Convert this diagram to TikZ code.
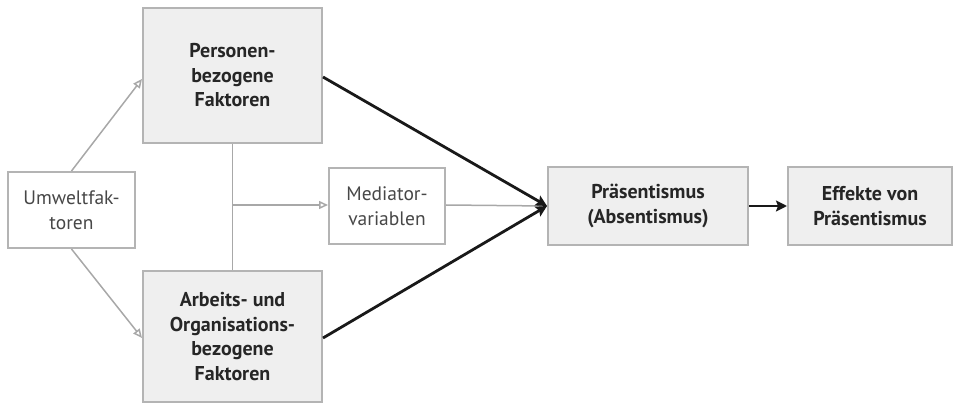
\documentclass[tikz,border=0pt]{standalone}
\usepackage{fontspec}
\setmainfont{PT Sans}
\usetikzlibrary{arrows.meta}
\definecolor{boxline}{HTML}{B4B4B4}
\definecolor{boxfill}{HTML}{EFEFEF}
\definecolor{grayarrow}{HTML}{A8A8A8}
\begin{document}
\begin{tikzpicture}[x=1pt,y=-1pt,
  fbox/.style={draw=boxline,line width=2pt,fill=boxfill,inner sep=0pt,align=center,font=\fontsize{20}{24.5}\selectfont\bfseries,text=black!85},
  wbox/.style={draw=boxline,line width=2pt,fill=white,inner sep=0pt,align=center,font=\fontsize{19.5}{24.5}\selectfont,text=black!72},
  garrow/.style={draw=grayarrow,line width=1.5pt,-{Stealth[length=9pt,width=8pt,inset=0pt,open]}},
  gline/.style={draw=grayarrow,line width=1.5pt},
  barrow/.style={draw=black!90,line width=2.8pt,-{Stealth[length=11pt,width=11pt,inset=2pt]}},
]
\useasboundingbox (0,0) rectangle (956,406);
\node[fbox,minimum width=179pt,minimum height=135pt] (pers) at (232.5,75.5) {Personen-\\bezogene\\Faktoren};
\node[fbox,minimum width=179pt,minimum height=131pt] (arb) at (232.5,336.5) {Arbeits- und\\Organisations-\\bezogene\\Faktoren};
\node[wbox,minimum width=127pt,minimum height=76pt] (umw) at (71.5,210) {Umweltfak-\\toren};
\node[wbox,minimum width=116pt,minimum height=76pt] (med) at (387,206) {Mediator-\\variablen};
\node[fbox,minimum width=200pt,minimum height=78pt] (prae) at (648,206) {Präsentismus\\(Absentismus)};
\node[fbox,minimum width=164pt,minimum height=78pt] (eff) at (870,206) {Effekte von\\Präsentismus};
\coordinate (j) at (232,205);
\coordinate (pin) at (prae.west);
\draw[gline] (pers.south) -- (arb.north);
\draw[garrow] (j) -- (med.west |- j);
\draw[gline] (med.east |- j) -- (pin);
\draw[garrow] (umw.north) -- (pers.west |- 0,79);
\draw[garrow] (umw.south) -- (arb.west |- 0,338);
\draw[barrow] (pers.east |- 0,77) -- (pin);
\draw[barrow] (arb.east |- 0,338) -- (pin);
\draw[barrow] (prae.east) -- (eff.west);
\end{tikzpicture}
\end{document}
